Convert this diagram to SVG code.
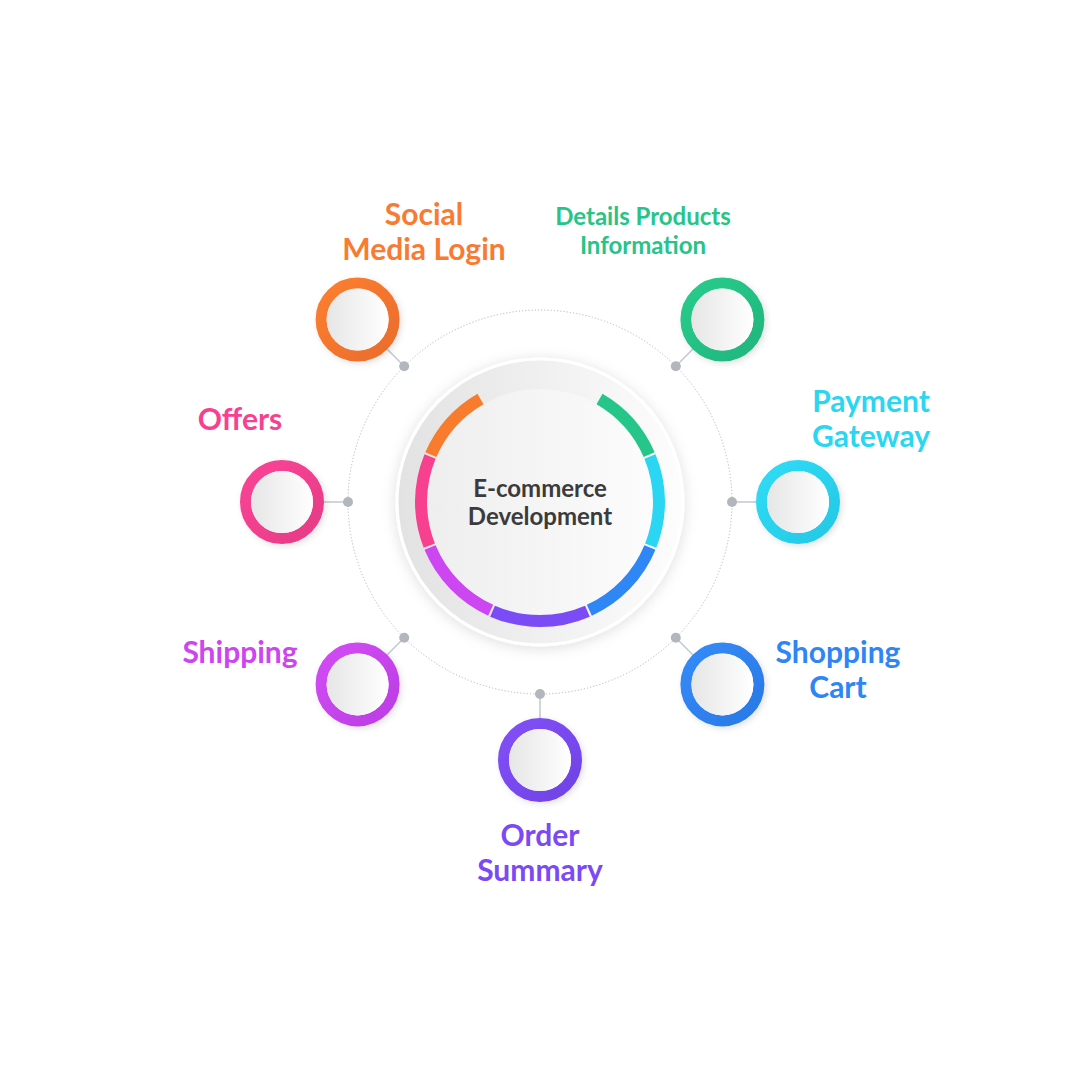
<svg xmlns="http://www.w3.org/2000/svg" width="1080" height="1080" viewBox="0 0 1080 1080">
<defs>
<style>
.lbl{font-family:Lato,"Open Sans","Liberation Sans",sans-serif;font-weight:700;text-anchor:middle}
.big{font-size:30px}
.sm{font-size:24px}
.ctr{font-family:Lato,"Open Sans","Liberation Sans",sans-serif;font-weight:700;font-size:24px;fill:#3b3b3b;text-anchor:middle}
.conn{stroke:#c4c8cd;stroke-width:1.5;fill:none}
.dot{fill:#b2b7bd}
.seg{fill:none;stroke-width:12}
.ring{fill:none;stroke-width:11}
.disc{fill:url(#discG)}
</style>
<linearGradient id="bigG" x1="0" y1="0" x2="1" y2="0"><stop offset="0" stop-color="#e2e2e2"/><stop offset="1" stop-color="#fdfdfd"/></linearGradient>
<linearGradient id="innerG" x1="0" y1="0" x2="1" y2="0"><stop offset="0" stop-color="#eeeeee"/><stop offset="1" stop-color="#fcfcfc"/></linearGradient>
<linearGradient id="discG" x1="0" y1="0" x2="1" y2="0"><stop offset="0" stop-color="#e6e6e6"/><stop offset="1" stop-color="#ffffff"/></linearGradient>
<linearGradient id="gOr" x1="0" y1="0" x2="1" y2="1"><stop offset="0" stop-color="#fc7f30"/><stop offset="1" stop-color="#ea6c2c"/></linearGradient>
<linearGradient id="gGr" x1="0" y1="0" x2="1" y2="1"><stop offset="0" stop-color="#27cc8c"/><stop offset="1" stop-color="#22b57e"/></linearGradient>
<linearGradient id="gCy" x1="0" y1="0" x2="1" y2="1"><stop offset="0" stop-color="#2fdcf5"/><stop offset="1" stop-color="#25c8e6"/></linearGradient>
<linearGradient id="gBl" x1="0" y1="0" x2="1" y2="1"><stop offset="0" stop-color="#338bf7"/><stop offset="1" stop-color="#2a78e6"/></linearGradient>
<linearGradient id="gPu" x1="0" y1="0" x2="1" y2="1"><stop offset="0" stop-color="#8250f7"/><stop offset="1" stop-color="#6f42e6"/></linearGradient>
<linearGradient id="gMa" x1="0" y1="0" x2="1" y2="1"><stop offset="0" stop-color="#d24bf4"/><stop offset="1" stop-color="#bb3ee4"/></linearGradient>
<linearGradient id="gPk" x1="0" y1="0" x2="1" y2="1"><stop offset="0" stop-color="#fa4496"/><stop offset="1" stop-color="#e63c86"/></linearGradient>
<filter id="shBig" x="-20%" y="-20%" width="140%" height="140%"><feDropShadow dx="0" dy="2" stdDeviation="7" flood-color="#000" flood-opacity="0.13"/></filter>
<filter id="shSm" x="-30%" y="-30%" width="160%" height="160%"><feDropShadow dx="2" dy="2" stdDeviation="3" flood-color="#000" flood-opacity="0.12"/></filter>
</defs>
<rect width="1080" height="1080" fill="#ffffff"/>

<circle cx="540" cy="502" r="192" fill="none" stroke="#b8b8b8" stroke-width="1" stroke-dasharray="1.2 2"/>

<g id="connectors">
<line class="conn" x1="404.2" y1="366.2" x2="387.3" y2="349.3"/>
<line class="conn" x1="675.8" y1="366.2" x2="692.7" y2="349.3"/>
<line class="conn" x1="732" y1="502" x2="756" y2="502"/>
<line class="conn" x1="675.8" y1="637.8" x2="692.7" y2="654.7"/>
<line class="conn" x1="540" y1="694" x2="540" y2="718"/>
<line class="conn" x1="404.2" y1="637.8" x2="387.3" y2="654.7"/>
<line class="conn" x1="348" y1="502" x2="324" y2="502"/>
<circle class="dot" cx="404.2" cy="366.2" r="5"/>
<circle class="dot" cx="675.8" cy="366.2" r="5"/>
<circle class="dot" cx="732" cy="502" r="5"/>
<circle class="dot" cx="675.8" cy="637.8" r="5"/>
<circle class="dot" cx="540" cy="694" r="5"/>
<circle class="dot" cx="404.2" cy="637.8" r="5"/>
<circle class="dot" cx="348" cy="502" r="5"/>
</g>

<g id="center">
<circle cx="540" cy="502" r="143" fill="url(#bigG)" stroke="#ffffff" stroke-width="3" filter="url(#shBig)"/>
<circle cx="540" cy="502" r="113" fill="url(#innerG)"/>
<path class="seg" stroke="#26c68a" d="M599.5 398.95 A119 119 0 0 1 649.13 454.55"/>
<path class="seg" stroke="#2ad6f2" d="M649.94 456.46 A119 119 0 0 1 650.72 545.61"/>
<path class="seg" stroke="#2f86f5" d="M649.94 547.54 A119 119 0 0 1 589.35 610.29"/>
<path class="seg" stroke="#7b4cf6" d="M587.45 611.13 A119 119 0 0 1 492.55 611.13"/>
<path class="seg" stroke="#cc46f2" d="M490.65 610.29 A119 119 0 0 1 430.06 547.54"/>
<path class="seg" stroke="#f7418f" d="M429.28 545.61 A119 119 0 0 1 430.06 456.46"/>
<path class="seg" stroke="#f97b2e" d="M430.87 454.55 A119 119 0 0 1 480.5 398.95"/>
<text class="ctr" x="540" y="497">E-commerce</text>
<text class="ctr" x="540" y="525">Development</text>
</g>

<g id="node-social">
<circle class="ring" cx="357.6" cy="319.6" r="36.5" stroke="url(#gOr)" filter="url(#shSm)"/>
<circle class="disc" cx="357.6" cy="319.6" r="31"/>
<text class="lbl big" fill="#f97a32" x="424" y="225">Social</text>
<text class="lbl big" fill="#f97a32" x="424" y="260">Media Login</text>
</g>

<g id="node-details">
<circle class="ring" cx="722.4" cy="319.6" r="36.5" stroke="url(#gGr)" filter="url(#shSm)"/>
<circle class="disc" cx="722.4" cy="319.6" r="31"/>
<text class="lbl sm" fill="#26c587" x="643" y="225">Details Products</text>
<text class="lbl sm" fill="#26c587" x="643" y="254">Information</text>
</g>

<g id="node-payment">
<circle class="ring" cx="798" cy="502" r="36.5" stroke="url(#gCy)" filter="url(#shSm)"/>
<circle class="disc" cx="798" cy="502" r="31"/>
<text class="lbl big" fill="#2bd6f1" x="871" y="412">Payment</text>
<text class="lbl big" fill="#2bd6f1" x="871" y="447">Gateway</text>
</g>

<g id="node-shopping">
<circle class="ring" cx="722.4" cy="684.4" r="36.5" stroke="url(#gBl)" filter="url(#shSm)"/>
<circle class="disc" cx="722.4" cy="684.4" r="31"/>
<text class="lbl big" fill="#2e85f5" x="838" y="663">Shopping</text>
<text class="lbl big" fill="#2e85f5" x="838" y="698">Cart</text>
</g>

<g id="node-order">
<circle class="ring" cx="540" cy="760" r="36.5" stroke="url(#gPu)" filter="url(#shSm)"/>
<circle class="disc" cx="540" cy="760" r="31"/>
<text class="lbl big" fill="#7b4af5" x="540" y="846">Order</text>
<text class="lbl big" fill="#7b4af5" x="540" y="881">Summary</text>
</g>

<g id="node-shipping">
<circle class="ring" cx="357.6" cy="684.4" r="36.5" stroke="url(#gMa)" filter="url(#shSm)"/>
<circle class="disc" cx="357.6" cy="684.4" r="31"/>
<text class="lbl big" fill="#cc45f0" x="240" y="663">Shipping</text>
</g>

<g id="node-offers">
<circle class="ring" cx="282" cy="502" r="36.5" stroke="url(#gPk)" filter="url(#shSm)"/>
<circle class="disc" cx="282" cy="502" r="31"/>
<text class="lbl big" fill="#f74190" x="240" y="430">Offers</text>
</g>
</svg>
